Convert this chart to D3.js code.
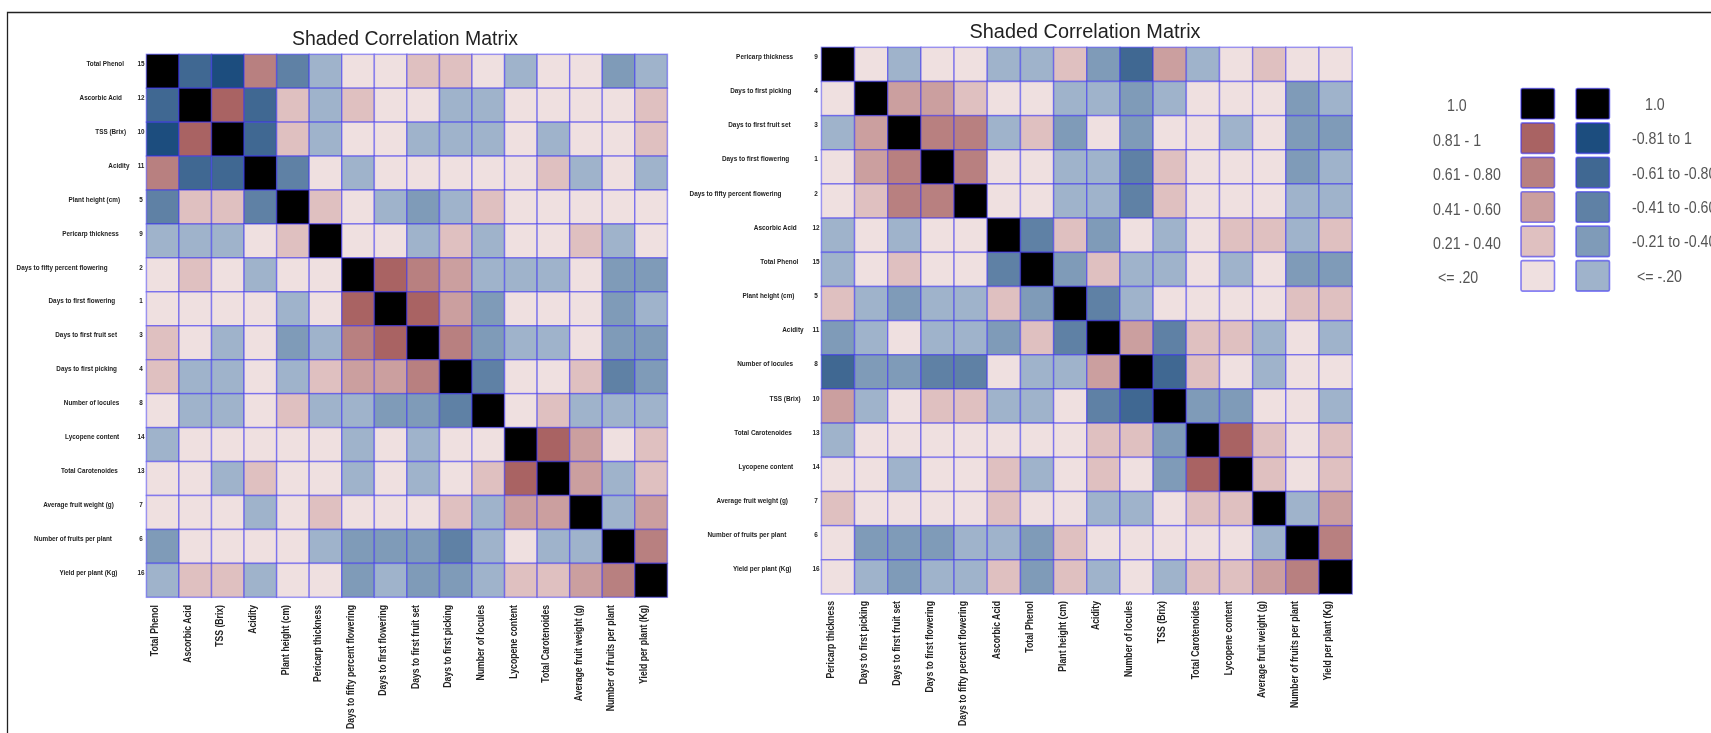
<!DOCTYPE html>
<html>
<head>
<meta charset="utf-8">
<script src="https://cdnjs.cloudflare.com/ajax/libs/d3/7.8.5/d3.min.js"></script>
<style>
  html, body { margin: 0; padding: 0; background: #fff; overflow: hidden; }
  svg { display: block; font-family: "Liberation Sans", Arial, sans-serif; }
</style>
</head>
<body>
<svg id="vis" width="1711" height="733"></svg>
<script>
// variable names and their numbers as printed on the row labels
const varNumbers = {
  "Total Phenol": 15, "Ascorbic Acid": 12, "TSS (Brix)": 10, "Acidity": 11, "Plant height (cm)": 5,
  "Pericarp thickness": 9, "Days to fifty percent flowering": 2, "Days to first flowering": 1,
  "Days to first fruit set": 3, "Days to first picking": 4, "Number of locules": 8,
  "Lycopene content": 14, "Total Carotenoides": 13, "Average fruit weight (g)": 7,
  "Number of fruits per plant": 6, "Yield per plant (Kg)": 16
}

const orderLeft = ["Total Phenol", "Ascorbic Acid", "TSS (Brix)", "Acidity", "Plant height (cm)",
  "Pericarp thickness", "Days to fifty percent flowering", "Days to first flowering",
  "Days to first fruit set", "Days to first picking", "Number of locules", "Lycopene content",
  "Total Carotenoides", "Average fruit weight (g)", "Number of fruits per plant", "Yield per plant (Kg)"]

const orderRight = ["Pericarp thickness", "Days to first picking", "Days to first fruit set",
  "Days to first flowering", "Days to fifty percent flowering", "Ascorbic Acid", "Total Phenol",
  "Plant height (cm)", "Acidity", "Number of locules", "TSS (Brix)", "Total Carotenoides",
  "Lycopene content", "Average fruit weight (g)", "Number of fruits per plant", "Yield per plant (Kg)"]

// shading class of every cell: 1..5 positive, -1..-5 negative, 9 = diagonal
const shadesLeft = [
  [9,-4,-5,4,-3,-1,1,1,2,2,1,-1,1,1,-2,-1],
  [-4,9,5,-4,2,-1,2,1,1,-1,-1,1,1,1,1,2],
  [-5,5,9,-4,2,-1,1,1,-1,-1,-1,1,-1,1,1,2],
  [4,-4,-4,9,-3,1,-1,1,1,1,1,1,2,-1,1,-1],
  [-3,2,2,-3,9,2,1,-1,-2,-1,2,1,1,1,1,1],
  [-1,-1,-1,1,2,9,1,1,-1,2,-1,1,1,2,-1,1],
  [1,2,1,-1,1,1,9,5,4,3,-1,-1,-1,1,-2,-2],
  [1,1,1,1,-1,1,5,9,5,3,-2,1,1,1,-2,-1],
  [2,1,-1,1,-2,-1,4,5,9,4,-2,-1,-1,1,-2,-2],
  [2,-1,-1,1,-1,2,3,3,4,9,-3,1,1,2,-3,-2],
  [1,-1,-1,1,2,-1,-1,-2,-2,-3,9,1,2,-1,-1,-1],
  [-1,1,1,1,1,1,-1,1,-1,1,1,9,5,3,1,2],
  [1,1,-1,2,1,1,-1,1,-1,1,2,5,9,3,-1,2],
  [1,1,1,-1,1,2,1,1,1,2,-1,3,3,9,-1,3],
  [-2,1,1,1,1,-1,-2,-2,-2,-3,-1,1,-1,-1,9,4],
  [-1,2,2,-1,1,1,-2,-1,-2,-2,-1,2,2,3,4,9]
]

const shadesRight = [
  [9,1,-1,1,1,-1,-1,2,-2,-4,3,-1,1,2,1,1],
  [1,9,3,3,2,1,1,-1,-1,-2,-1,1,1,1,-2,-1],
  [-1,3,9,4,4,-1,2,-2,1,-2,1,1,-1,1,-2,-2],
  [1,3,4,9,4,1,1,-1,-1,-3,2,1,1,1,-2,-1],
  [1,2,4,4,9,1,1,-1,-1,-3,2,1,1,1,-1,-1],
  [-1,1,-1,1,1,9,-3,2,-2,1,-1,1,2,2,-1,2],
  [-1,1,2,1,1,-3,9,-2,2,-1,-1,1,-1,1,-2,-2],
  [2,-1,-2,-1,-1,2,-2,9,-3,-1,1,1,1,1,2,2],
  [-2,-1,1,-1,-1,-2,2,-3,9,3,-3,2,2,-1,1,-1],
  [-4,-2,-2,-3,-3,1,-1,-1,3,9,-4,2,1,-1,1,1],
  [3,-1,1,2,2,-1,-1,1,-3,-4,9,-2,-2,1,1,-1],
  [-1,1,1,1,1,1,1,1,2,2,-2,9,5,2,1,2],
  [1,1,-1,1,1,2,-1,1,2,1,-2,5,9,2,1,2],
  [2,1,1,1,1,2,1,1,-1,-1,1,2,2,9,-1,3],
  [1,-2,-2,-2,-1,-1,-2,2,1,1,1,1,1,-1,9,4],
  [1,-1,-2,-1,-1,2,-2,2,-1,1,-1,2,2,3,4,9]
]

const shadeClasses = [9, 5, 4, 3, 2, 1, -5, -4, -3, -2, -1]
const shadeColors = ["#000000", "#a96464", "#b88080", "#cb9f9f", "#dfc0c0", "#efe0e0",
                     "#1f4e7e", "#3f6792", "#5f81a5", "#7f9bb8", "#9fb3cb"]

const legendPosLabels = ["1.0", "0.81 - 1", "0.61 - 0.80", "0.41 - 0.60", "0.21 - 0.40", "<= .20"]
const legendNegLabels = ["1.0", "-0.81 to 1", "-0.61 to -0.80", "-0.41 to -0.60", "-0.21 to -0.40", "<= -.20"]
const legendPosShades = [9, 5, 4, 3, 2, 1]
const legendNegShades = [9, -5, -4, -3, -2, -1]

const titleText = "Shaded Correlation Matrix"

// layout: where the row labels end differs per row in the original, so it is kept here
const panelLeft = {
  x0: 146.4, x1: 667.4, y0: 54.3, y1: 597.3, titleX: 405, titleY: 45, titleW: 226, colTop: 605, numX: 141,
  rowW: 91, colW: 124,
  labelEnds: [124, 122, 126, 129.5, 120, 118.8, 107.6, 115.2, 117, 117, 119.2, 119.2, 117.9, 113.8, 112, 117.4]
}
const panelRight = {
  x0: 821.4, x1: 1352.2, y0: 47.3, y1: 594, titleX: 1085, titleY: 38, titleW: 231, colTop: 601, numX: 816,
  rowW: 92, colW: 125,
  labelEnds: [793.2, 791.5, 790.6, 789.3, 781.5, 796.7, 798.4, 794.5, 803.6, 793.2, 800.6, 791.9, 793.2, 788, 786.3, 791.5]
}

const colorScale = d3.scaleOrdinal().domain(shadeClasses).range(shadeColors)

const svg = d3.select("#vis")

// the original is a soft upscaled screenshot
const defs = svg.append("defs")
defs.append("filter").attr("id", "soft")
  .attr("x", 0).attr("y", 0).attr("width", 1).attr("height", 1)
  .attr("filterUnits", "objectBoundingBox")
  .append("feGaussianBlur").attr("stdDeviation", 0.55)

const root = svg.append("g").attr("filter", "url(#soft)")
root.append("rect").attr("width", 1711).attr("height", 733).attr("fill", "#fff")

// frame around the figure
root.append("path")
  .attr("d", d3.line()([[7.5, 733], [7.5, 12.5], [1711, 12.5]]))
  .attr("fill", "none").attr("stroke", "#222").attr("stroke-width", 1.3)

// squeeze a set of texts so the longest one is `target` px, the original fonts are narrow
function squeeze(sel, target) {
  let longest = 0
  sel.each(function() { longest = Math.max(longest, this.getComputedTextLength()) })
  const k = target / longest
  sel.each(function() {
    d3.select(this)
      .attr("textLength", this.getComputedTextLength() * k)
      .attr("lengthAdjust", "spacingAndGlyphs")
  })
  return k
}

function drawMatrix(order, shades, panel) {
  const group = root.append("g")

  const xScale = d3.scaleBand().domain(order).range([panel.x0, panel.x1])
  const yScale = d3.scaleBand().domain(order).range([panel.y0, panel.y1])

  group.append("text")
    .attr("x", panel.titleX).attr("y", panel.titleY)
    .attr("text-anchor", "middle")
    .attr("font-size", 20.5).attr("fill", "#222")
    .attr("textLength", panel.titleW).attr("lengthAdjust", "spacingAndGlyphs")
    .text(titleText)

  const cells = []
  shades.forEach((row, i) => row.forEach((s, j) => cells.push({ r: order[i], c: order[j], s })))

  group.selectAll("rect.cell").data(cells).join("rect")
    .attr("class", "cell")
    .attr("x", d => xScale(d.c))
    .attr("y", d => yScale(d.r))
    .attr("width", xScale.bandwidth())
    .attr("height", yScale.bandwidth())
    .attr("fill", d => colorScale(d.s))
    .attr("stroke", "#3a32f0")
    .attr("stroke-opacity", 0.48)
    .attr("stroke-width", 1.5)

  // row labels
  const rowLabels = group.selectAll("text.rowlabel").data(order).join("text")
    .attr("class", "rowlabel")
    .attr("x", (d, i) => panel.labelEnds[i])
    .attr("y", d => yScale(d) + 8.8)
    .attr("dy", "0.35em").attr("text-anchor", "end")
    .attr("font-weight", "bold").attr("font-size", 8).attr("fill", "#222")
    .text(d => d)
  const k = squeeze(rowLabels, panel.rowW)

  group.selectAll("text.rownum").data(order).join("text")
    .attr("class", "rownum")
    .attr("x", panel.numX)
    .attr("y", d => yScale(d) + 8.8)
    .attr("dy", "0.35em").attr("text-anchor", "middle")
    .attr("font-weight", "bold").attr("font-size", 8).attr("fill", "#222")
    .text(d => varNumbers[d])
    .each(function() {
      d3.select(this).attr("textLength", this.getComputedTextLength() * k).attr("lengthAdjust", "spacingAndGlyphs")
    })

  // column labels, hanging down from under the grid
  const xAxis = group.append("g")
    .attr("transform", `translate(0, ${panel.colTop})`)
    .call(d3.axisBottom(xScale).tickSize(0).tickPadding(0))
  xAxis.select(".domain").remove()
  const colLabels = xAxis.selectAll("text")
    .attr("transform", "translate(-8, 0) rotate(-90)")
    .attr("text-anchor", "end")
    .attr("x", 0).attr("y", 0).attr("dy", "0.35em")
    .attr("font-size", 10.5).attr("font-family", "'Liberation Sans', sans-serif")
    .attr("font-weight", "bold").attr("fill", "#222")
  squeeze(colLabels, panel.colW)
}

drawMatrix(orderLeft, shadesLeft, panelLeft)
drawMatrix(orderRight, shadesRight, panelRight)

// legend
const legendY = d3.scaleBand().domain(d3.range(6)).range([87.5, 294])

function drawLegend(labels, shades, boxX, textAnchorX, textDy) {
  const g = root.append("g")
  g.selectAll("rect").data(shades).join("rect")
    .attr("x", boxX).attr("y", (d, i) => legendY(i) + 1)
    .attr("width", 33.5).attr("height", 30.5)
    .attr("rx", 1.5)
    .attr("fill", d => colorScale(d))
    .attr("stroke", "#3a32f0").attr("stroke-opacity", 0.6).attr("stroke-width", 1.6)
  g.selectAll("text").data(labels).join("text")
    .attr("x", (d, i) => textAnchorX[i])
    .attr("y", (d, i) => legendY(i) + 16.5 + textDy)
    .attr("dy", "0.35em")
    .attr("font-size", 16.5).attr("fill", "#555")
    .text(d => d)
    .each(function() {
      d3.select(this).attr("textLength", this.getComputedTextLength() * 0.86).attr("lengthAdjust", "spacingAndGlyphs")
    })
}

drawLegend(legendPosLabels, legendPosShades, 1521, [1447, 1433, 1433, 1433, 1433, 1438], 1.5)
drawLegend(legendNegLabels, legendNegShades, 1576, [1645, 1632, 1632, 1632, 1632, 1637], 0)
</script>
</body>
</html>
